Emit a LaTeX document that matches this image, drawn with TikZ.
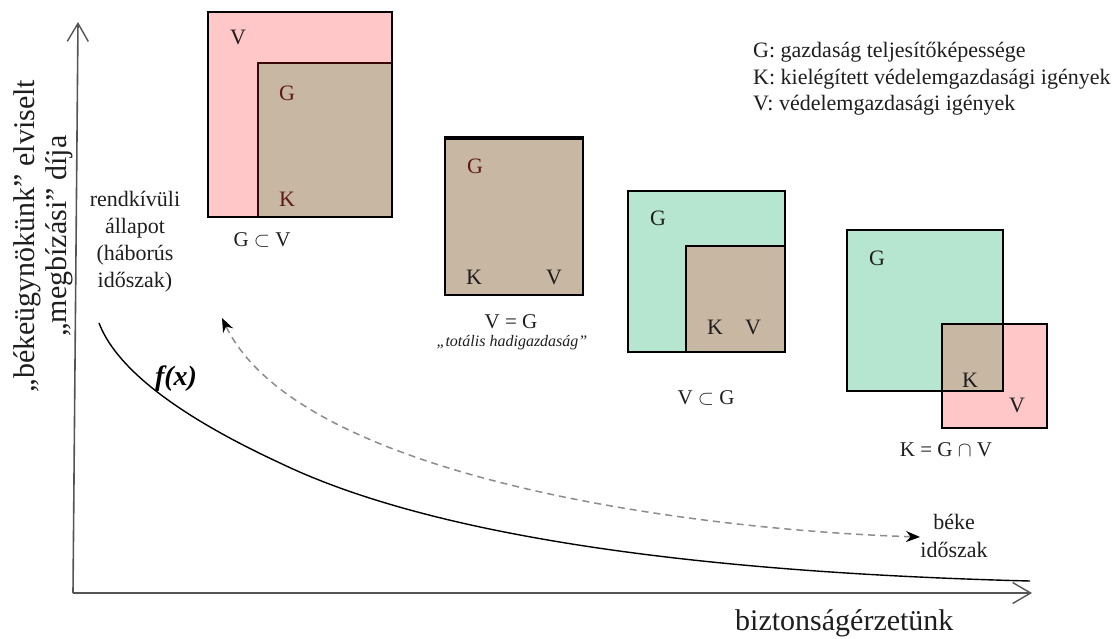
\documentclass[tikz,border=0pt]{standalone}
\usepackage{fontspec}
\setmainfont{Liberation Serif}
\usetikzlibrary{arrows.meta}

\definecolor{vpink}{RGB}{255,199,199}
\definecolor{kbrown}{RGB}{200,183,163}
\definecolor{ggreen}{RGB}{183,230,208}
\definecolor{axisgray}{RGB}{85,85,85}
\definecolor{darkmaroon}{RGB}{55,8,8}
\definecolor{labred}{RGB}{95,25,25}
\definecolor{dashgray}{RGB}{140,140,140}
\definecolor{inkblack}{RGB}{30,30,30}

\newcommand\fsz[2]{\fontsize{#1}{#2}\selectfont}

\begin{document}
\begin{tikzpicture}[x=1pt,y=-1pt,
  axis/.style={draw=axisgray, line width=1.6pt, -{Straight Barb[length=18pt,width=21pt,line width=1.4pt]}},
  setbox/.style={draw=black, line width=2.4pt},
  letter/.style={font=\fsz{22}{24}, text=inkblack, inner sep=0pt},
  caption/.style={font=\fsz{21}{24}, text=inkblack, inner sep=0pt},
  legend/.style={font=\fsz{22}{26}, text=inkblack, anchor=base west, inner sep=0pt},
  note/.style={font=\fsz{22}{27}, text=inkblack, align=center, inner sep=0pt},
  curve/.style={draw=black, line width=1.4pt},
  move/.style={draw=dashgray, line width=1.5pt, dash pattern=on 7pt off 5pt,
    {Stealth[length=14pt,width=11pt,color=black]}-{Stealth[length=14pt,width=11pt,color=black]}}
]
\useasboundingbox (0,0) rectangle (1118,638);

% axes
\coordinate (origin) at (73,593);
\coordinate (ytip) at (78,22);
\coordinate (xtip) at (1032,593);
\draw[axis] (origin) -- (ytip);
\draw[axis] (origin) -- (xtip);

% axis titles
\node[rotate=90, align=center, font=\fsz{30}{32}, text=inkblack, inner sep=0pt] (ylab) at (43,236)
  {„békeügynökünk” elviselt\\„megbízási” díja};
\node[font=\fsz{30}{32}, text=inkblack, anchor=base west, inner sep=0pt] (xlab) at (735,630) {biztonságérzetünk};

% end states
\node[note] (war) at (135,242) {rendkívüli\\állapot\\(háborús\\időszak)};
\node[note, font=\fsz{22}{28}] (peace) at (954,536) {béke\\időszak};

% f(x)
\coordinate (fstart) at (99,323);
\coordinate (fmid) at (280,463);
\coordinate (fend) at (1030,581);
\draw[curve] (fstart) .. controls (115,365) and (170,412) .. (fmid)
  .. controls (390,516) and (600,570) .. (fend);
\node[font=\bfseries\itshape\fsz{28}{30}, text=black, inner sep=0pt] (fx) at (176,379) {f(x)};

% transition between peace and war
\coordinate (peaceEnd) at (920,537);
\coordinate (warEnd) at (222,318);
\draw[move] (peaceEnd) .. controls (700,530) and (300,480) .. (warEnd);

% legend
\node[legend] (legG) at (753,57) {G: gazdaság teljesítőképessége};
\node[legend] (legK) at (753,84) {K: kielégített védelemgazdasági igények};
\node[legend] (legV) at (753,110) {V: védelemgazdasági igények};

% case 1: G inside V
\fill[vpink] (208,12) rectangle (392,217);
\fill[kbrown] (258,63) rectangle (392,217);
\draw[draw=darkmaroon, line width=2.4pt] (258,217) -- (258,63) -- (392,63);
\draw[setbox] (208,12) rectangle (392,217);
\node[letter] (v1) at (238,37) {V};
\node[letter, text=labred] (g1) at (287,93) {G};
\node[letter, text=labred] (k1) at (287,199) {K};
\node[caption] (c1) at (262,240) {G $\subset$ V};

% case 2: V equals G
\fill[kbrown] (445,137) rectangle (583,295);
\draw[setbox] (445,137) rectangle (583,295);
\draw[black, line width=4pt] (443.8,137.5) -- (584.2,137.5);
\node[letter, text=labred] (g2) at (475,166) {G};
\node[letter] (k2) at (474,277) {K};
\node[letter] (v2) at (554,277) {V};
\node[caption] (c2) at (511,322) {V = G};
\node[font=\itshape\fsz{16}{18}, text=inkblack, inner sep=0pt] (c2b) at (512,343) {„totális hadigazdaság”};

% case 3: V inside G
\fill[ggreen] (628,191) rectangle (785,352);
\fill[kbrown] (686,246) rectangle (785,352);
\draw[setbox] (686,352) -- (686,246) -- (785,246);
\draw[setbox] (628,191) rectangle (785,352);
\node[letter] (g3) at (658,218) {G};
\node[letter] (k3) at (715,327) {K};
\node[letter] (v3) at (753,327) {V};
\node[caption] (c3) at (706,398) {V $\subset$ G};

% case 4: overlapping G and V
\fill[ggreen] (847,230) rectangle (1003,391);
\fill[vpink] (942,324) rectangle (1047,428);
\fill[kbrown] (942,324) rectangle (1003,391);
\draw[setbox] (847,230) rectangle (1003,391);
\draw[setbox] (942,324) rectangle (1047,428);
\node[letter] (g4) at (877,258) {G};
\node[letter] (k4) at (970,380) {K};
\node[letter] (v4) at (1017,405) {V};
\node[caption] (c4) at (946,450) {K = G $\cap$ V};
\end{tikzpicture}
\end{document}
